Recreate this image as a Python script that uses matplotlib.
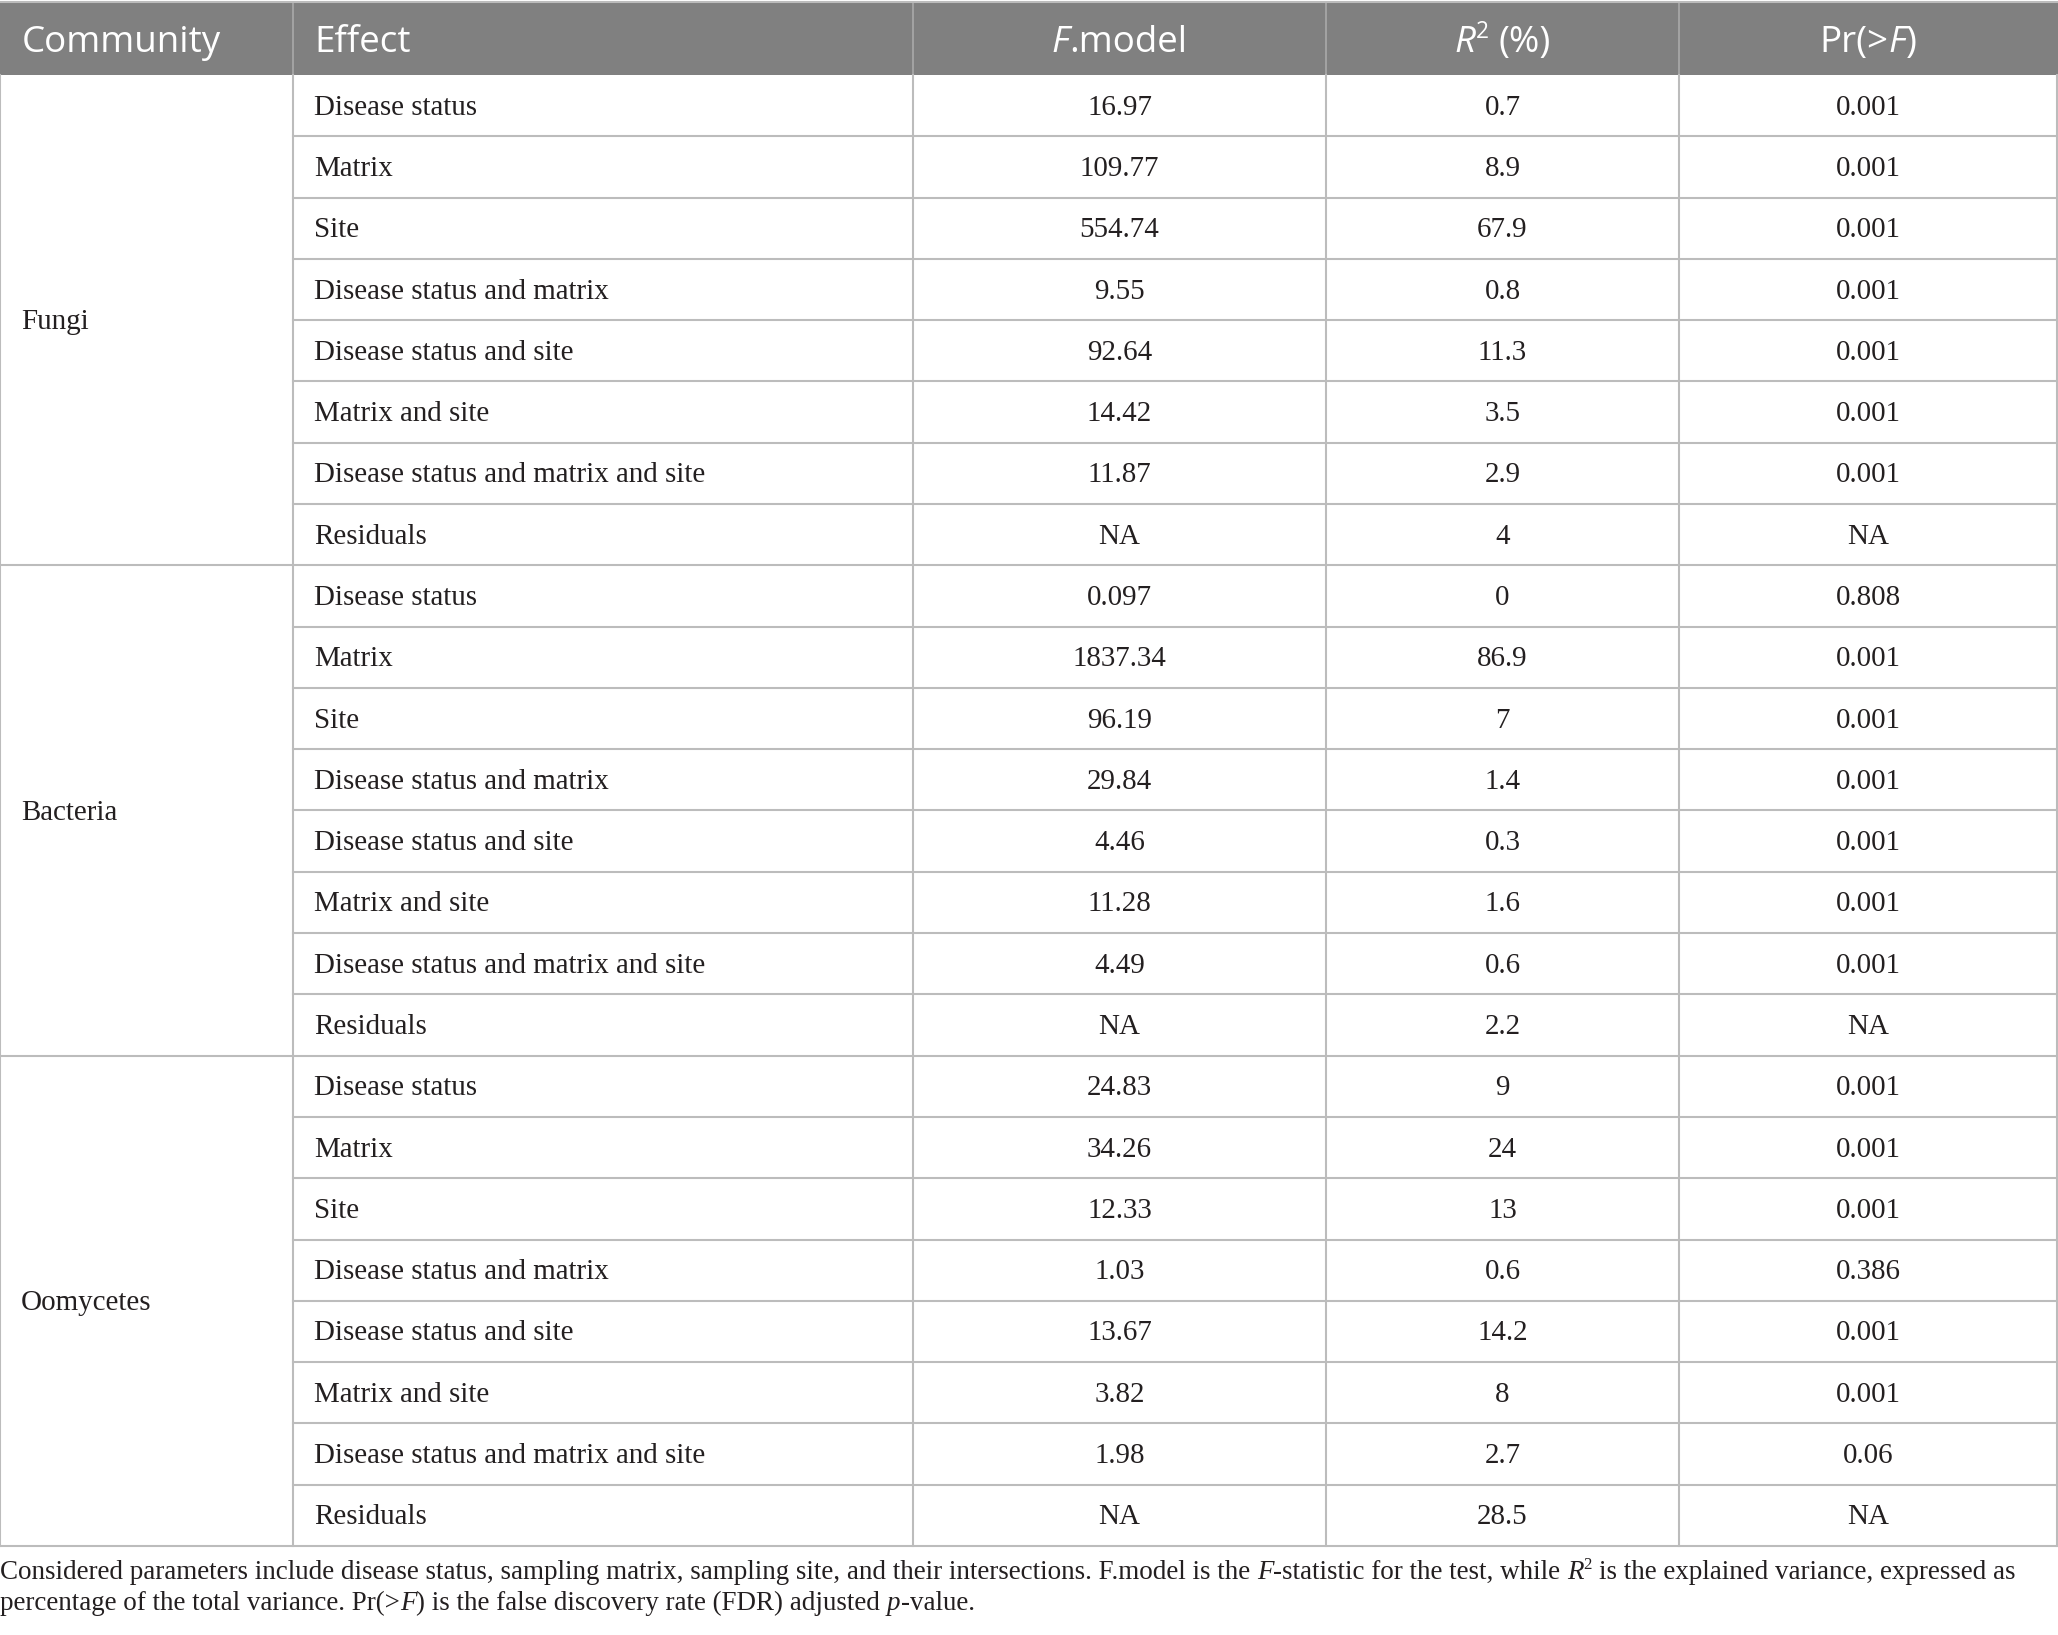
import matplotlib.pyplot as plt
from matplotlib.patches import Rectangle

# table data
communities = ['Fungi', 'Bacteria', 'Oomycetes']
effects = ['Disease status', 'Matrix', 'Site', 'Disease status and matrix',
           'Disease status and site', 'Matrix and site',
           'Disease status and matrix and site', 'Residuals']

fungi_f = ['16.97', '109.77', '554.74', '9.55', '92.64', '14.42', '11.87', 'NA']
fungi_r2 = ['0.7', '8.9', '67.9', '0.8', '11.3', '3.5', '2.9', '4']
fungi_pr = ['0.001', '0.001', '0.001', '0.001', '0.001', '0.001', '0.001', 'NA']

bacteria_f = ['0.097', '1837.34', '96.19', '29.84', '4.46', '11.28', '4.49', 'NA']
bacteria_r2 = ['0', '86.9', '7', '1.4', '0.3', '1.6', '0.6', '2.2']
bacteria_pr = ['0.808', '0.001', '0.001', '0.001', '0.001', '0.001', '0.001', 'NA']

oomycetes_f = ['24.83', '34.26', '12.33', '1.03', '13.67', '3.82', '1.98', 'NA']
oomycetes_r2 = ['9', '24', '13', '0.6', '14.2', '8', '2.7', '28.5']
oomycetes_pr = ['0.001', '0.001', '0.001', '0.386', '0.001', '0.001', '0.06', 'NA']

blocks = [(fungi_f, fungi_r2, fungi_pr),
          (bacteria_f, bacteria_r2, bacteria_pr),
          (oomycetes_f, oomycetes_r2, oomycetes_pr)]

W, H = 2058, 1635
fig = plt.figure(figsize=(W / 100, H / 100), dpi=100)
ax = fig.add_axes([0, 0, 1, 1])
ax.set_xlim(0, W)
ax.set_ylim(H, 0)
ax.axis('off')
renderer = fig.canvas.get_renderer()

SERIF = 'Liberation Serif'
SANS = 'Open Sans'
TXT = '#231f20'
GRID = '#bcbcbc'
BODY = 20.9


def draw_runs(x, y, parts, ha='left', size=BODY, family=SERIF, color=TXT):
    # parts: (text, style) with style 'n', 'i' or 'sup'; y is the baseline
    px = size * 100 / 72
    sp = ax.text(0, 0, 'x x', fontsize=size, family=family)
    sp2 = ax.text(0, 0, 'xx', fontsize=size, family=family)
    space_w = sp.get_window_extent(renderer).width - sp2.get_window_extent(renderer).width
    sp.remove()
    sp2.remove()
    items = []
    for s, st in parts:
        lead = len(s) - len(s.lstrip(' '))
        trail = len(s) - len(s.rstrip(' '))
        s = s.strip(' ')
        kw = dict(fontsize=size, family=family, color=color, va='baseline', ha='left')
        yy = y
        if st == 'i':
            kw['style'] = 'italic'
        if st == 'sup':
            kw['fontsize'] = size * 0.62
            yy = y - px * 0.38
        t = ax.text(0, yy, s, **kw)
        w = t.get_window_extent(renderer).width if s else 0
        items.append((t, lead * space_w, w, trail * space_w))
    total = sum(a + b + c for _, a, b, c in items)
    x0 = x - total / 2 if ha == 'center' else x
    for t, a, w, c in items:
        x0 += a
        t.set_x(x0)
        x0 += w + c


col_edges = [0, 293, 913, 1326, 1679, 2057]
centers = [(col_edges[i] + col_edges[i + 1]) / 2 for i in range(5)]
head_top, head_bot = 2, 75
row_h = (1546 - head_bot) / 24

# header
ax.add_patch(Rectangle((0, head_top), W, head_bot - head_top, color='#808080', lw=0))
for xe in col_edges[1:-1]:
    ax.plot([xe, xe], [head_top, head_bot], color='#a9a9a9', lw=1.2)
hb = 52
hs = 26.5
draw_runs(22, hb, [('Community', 'n')], size=hs, family=SANS, color='white')
draw_runs(314, hb, [('Effect', 'n')], size=hs, family=SANS, color='white')
draw_runs(centers[2], hb, [('F', 'i'), ('.model', 'n')], ha='center', size=hs, family=SANS, color='white')
draw_runs(centers[3], hb, [('R', 'i'), ('2', 'sup'), (' (%)', 'n')], ha='center', size=hs, family=SANS, color='white')
draw_runs(centers[4], hb, [('Pr(>', 'n'), ('F', 'i'), (')', 'n')], ha='center', size=hs, family=SANS, color='white')

# body
for b, (fv, rv, pv) in enumerate(blocks):
    top = head_bot + b * 8 * row_h
    for i in range(8):
        rt = top + i * row_h
        base = rt + row_h / 2 + 9
        draw_runs(314, base, [(effects[i], 'n')])
        draw_runs(centers[2], base, [(fv[i], 'n')], ha='center')
        draw_runs(centers[3], base, [(rv[i], 'n')], ha='center')
        draw_runs(centers[4], base, [(pv[i], 'n')], ha='center')
        if i > 0:
            ax.plot([col_edges[1], W - 1], [rt, rt], color=GRID, lw=1.5)
    draw_runs(21, top + 4 * row_h + 9, [(communities[b], 'n')])
    ax.plot([0, W - 1], [top + 8 * row_h, top + 8 * row_h], color=GRID, lw=1.5)

for xe in col_edges:
    xe = min(xe, W - 1)
    ax.plot([xe, xe], [head_bot, 1546], color=GRID, lw=1.5)
ax.plot([0, W - 1], [head_top, head_top], color=GRID, lw=1.5)

# footnote
cs = 19.45
draw_runs(0, 1579, [('Considered parameters include disease status, sampling matrix, sampling site, and their intersections. F.model is the ', 'n'),
                    ('F', 'i'), ('-statistic for the test, while ', 'n'), ('R', 'i'), ('2', 'sup'),
                    (' is the explained variance, expressed as', 'n')], size=cs)
draw_runs(0, 1610, [('percentage of the total variance. Pr(>', 'n'), ('F', 'i'),
                    (') is the false discovery rate (FDR) adjusted ', 'n'), ('p', 'i'), ('-value.', 'n')], size=cs)

fig.savefig('out.png', dpi=100)
